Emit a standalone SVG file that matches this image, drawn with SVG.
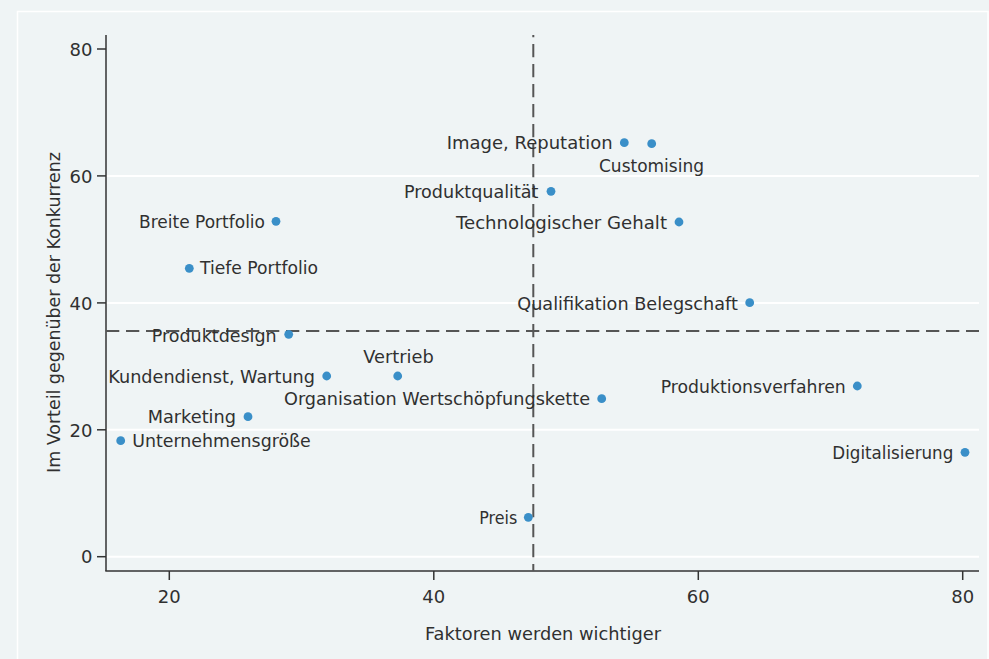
<svg xmlns="http://www.w3.org/2000/svg" width="989" height="659" viewBox="0 0 989 659">
<style>
.lbl{font-family:"DejaVu Sans","Liberation Sans",sans-serif;font-size:18px;fill:#303030}
.tick{font-family:"DejaVu Sans","Liberation Sans",sans-serif;font-size:18px;fill:#303030}
.dot{fill:#3a8fc8}
.grid{stroke:#ffffff;stroke-width:2}
.axis{stroke:#333333;stroke-width:1.5;fill:none}
.ref{stroke:#555555;stroke-width:2;stroke-dasharray:13.3 6.7;fill:none}
</style>
<rect x="0" y="0" width="989" height="659" fill="#eff4f5"/>
<rect x="17.5" y="11.5" width="970.5" height="660" fill="none" stroke="#ffffff" stroke-width="1.5"/>
<g id="grid">
<line class="grid" x1="106" y1="556.7" x2="979" y2="556.7"/>
<line class="grid" x1="106" y1="429.8" x2="979" y2="429.8"/>
<line class="grid" x1="106" y1="302.9" x2="979" y2="302.9"/>
<line class="grid" x1="106" y1="175.9" x2="979" y2="175.9"/>
</g>
<g id="axes">
<line class="axis" x1="106" y1="35" x2="106" y2="571"/>
<line class="axis" x1="105.3" y1="571" x2="979" y2="571"/>
<line class="axis" x1="97" y1="49" x2="106" y2="49"/>
<line class="axis" x1="97" y1="175.9" x2="106" y2="175.9"/>
<line class="axis" x1="97" y1="302.9" x2="106" y2="302.9"/>
<line class="axis" x1="97" y1="429.8" x2="106" y2="429.8"/>
<line class="axis" x1="97" y1="556.7" x2="106" y2="556.7"/>
<line class="axis" x1="169.3" y1="571" x2="169.3" y2="580"/>
<line class="axis" x1="433.8" y1="571" x2="433.8" y2="580"/>
<line class="axis" x1="698.3" y1="571" x2="698.3" y2="580"/>
<line class="axis" x1="962.7" y1="571" x2="962.7" y2="580"/>
<text class="tick" x="92.5" y="55.7" text-anchor="end">80</text>
<text class="tick" x="92.5" y="182.6" text-anchor="end">60</text>
<text class="tick" x="92.5" y="309.6" text-anchor="end">40</text>
<text class="tick" x="92.5" y="436.5" text-anchor="end">20</text>
<text class="tick" x="92.5" y="563.4" text-anchor="end">0</text>
<text class="tick" x="169.3" y="602.5" text-anchor="middle">20</text>
<text class="tick" x="433.8" y="602.5" text-anchor="middle">40</text>
<text class="tick" x="698.3" y="602.5" text-anchor="middle">60</text>
<text class="tick" x="962.7" y="602.5" text-anchor="middle">80</text>
<text class="lbl" x="425" y="640" textLength="236" lengthAdjust="spacingAndGlyphs">Faktoren werden wichtiger</text>
<text class="lbl" transform="translate(59.7,473) rotate(-90)" x="0" y="0" textLength="321" lengthAdjust="spacingAndGlyphs">Im Vorteil gegenüber der Konkurrenz</text>
</g>
<g id="connectors">
<line class="ref" x1="533.3" y1="35" x2="533.3" y2="571" stroke-dashoffset="11"/>
<line class="ref" x1="106" y1="331" x2="979" y2="331"/>
</g>
<g id="n-image"><circle class="dot" cx="624.3" cy="142.7" r="4.4"/><text class="lbl" x="446.7" y="149.3" textLength="166" lengthAdjust="spacingAndGlyphs">Image, Reputation</text></g>
<g id="n-customising"><circle class="dot" cx="651.7" cy="143.7" r="4.4"/><text class="lbl" x="599" y="172.3" textLength="105" lengthAdjust="spacingAndGlyphs">Customising</text></g>
<g id="n-produktqualitaet"><circle class="dot" cx="551" cy="191.3" r="4.4"/><text class="lbl" x="404" y="197.7" textLength="134.5" lengthAdjust="spacingAndGlyphs">Produktqualität</text></g>
<g id="n-technologie"><circle class="dot" cx="679" cy="222" r="4.4"/><text class="lbl" x="456" y="229.3" textLength="211" lengthAdjust="spacingAndGlyphs">Technologischer Gehalt</text></g>
<g id="n-breite"><circle class="dot" cx="276" cy="221.3" r="4.4"/><text class="lbl" x="139" y="227.7" textLength="126" lengthAdjust="spacingAndGlyphs">Breite Portfolio</text></g>
<g id="n-tiefe"><circle class="dot" cx="189.3" cy="268.3" r="4.4"/><text class="lbl" x="200" y="274" textLength="118" lengthAdjust="spacingAndGlyphs">Tiefe Portfolio</text></g>
<g id="n-qualifikation"><circle class="dot" cx="749.7" cy="302.7" r="4.4"/><text class="lbl" x="517.3" y="310" textLength="220.5" lengthAdjust="spacingAndGlyphs">Qualifikation Belegschaft</text></g>
<g id="n-produktdesign"><circle class="dot" cx="288.7" cy="334.3" r="4.4"/><text class="lbl" x="151.7" y="341.7" textLength="125" lengthAdjust="spacingAndGlyphs">Produktdesign</text></g>
<g id="n-vertrieb"><circle class="dot" cx="397.7" cy="376" r="4.4"/><text class="lbl" x="363.3" y="363.3" textLength="70.5" lengthAdjust="spacingAndGlyphs">Vertrieb</text></g>
<g id="n-kundendienst"><circle class="dot" cx="326.7" cy="376" r="4.4"/><text class="lbl" x="108.3" y="382.7" textLength="206.7" lengthAdjust="spacingAndGlyphs">Kundendienst, Wartung</text></g>
<g id="n-produktionsverfahren"><circle class="dot" cx="857.3" cy="386" r="4.4"/><text class="lbl" x="660.7" y="393.3" textLength="185" lengthAdjust="spacingAndGlyphs">Produktionsverfahren</text></g>
<g id="n-organisation"><circle class="dot" cx="601.7" cy="398.7" r="4.4"/><text class="lbl" x="284" y="405" textLength="306" lengthAdjust="spacingAndGlyphs">Organisation Wertschöpfungskette</text></g>
<g id="n-marketing"><circle class="dot" cx="248" cy="416.7" r="4.4"/><text class="lbl" x="147.7" y="422.7" textLength="88.3" lengthAdjust="spacingAndGlyphs">Marketing</text></g>
<g id="n-unternehmensgroesse"><circle class="dot" cx="120.7" cy="440.7" r="4.4"/><text class="lbl" x="132.3" y="446.7" textLength="178.4" lengthAdjust="spacingAndGlyphs">Unternehmensgröße</text></g>
<g id="n-digitalisierung"><circle class="dot" cx="965" cy="452.3" r="4.4"/><text class="lbl" x="832.3" y="459.3" textLength="121" lengthAdjust="spacingAndGlyphs">Digitalisierung</text></g>
<g id="n-preis"><circle class="dot" cx="528.3" cy="517.3" r="4.4"/><text class="lbl" x="479.3" y="524" textLength="38" lengthAdjust="spacingAndGlyphs">Preis</text></g>
</svg>
